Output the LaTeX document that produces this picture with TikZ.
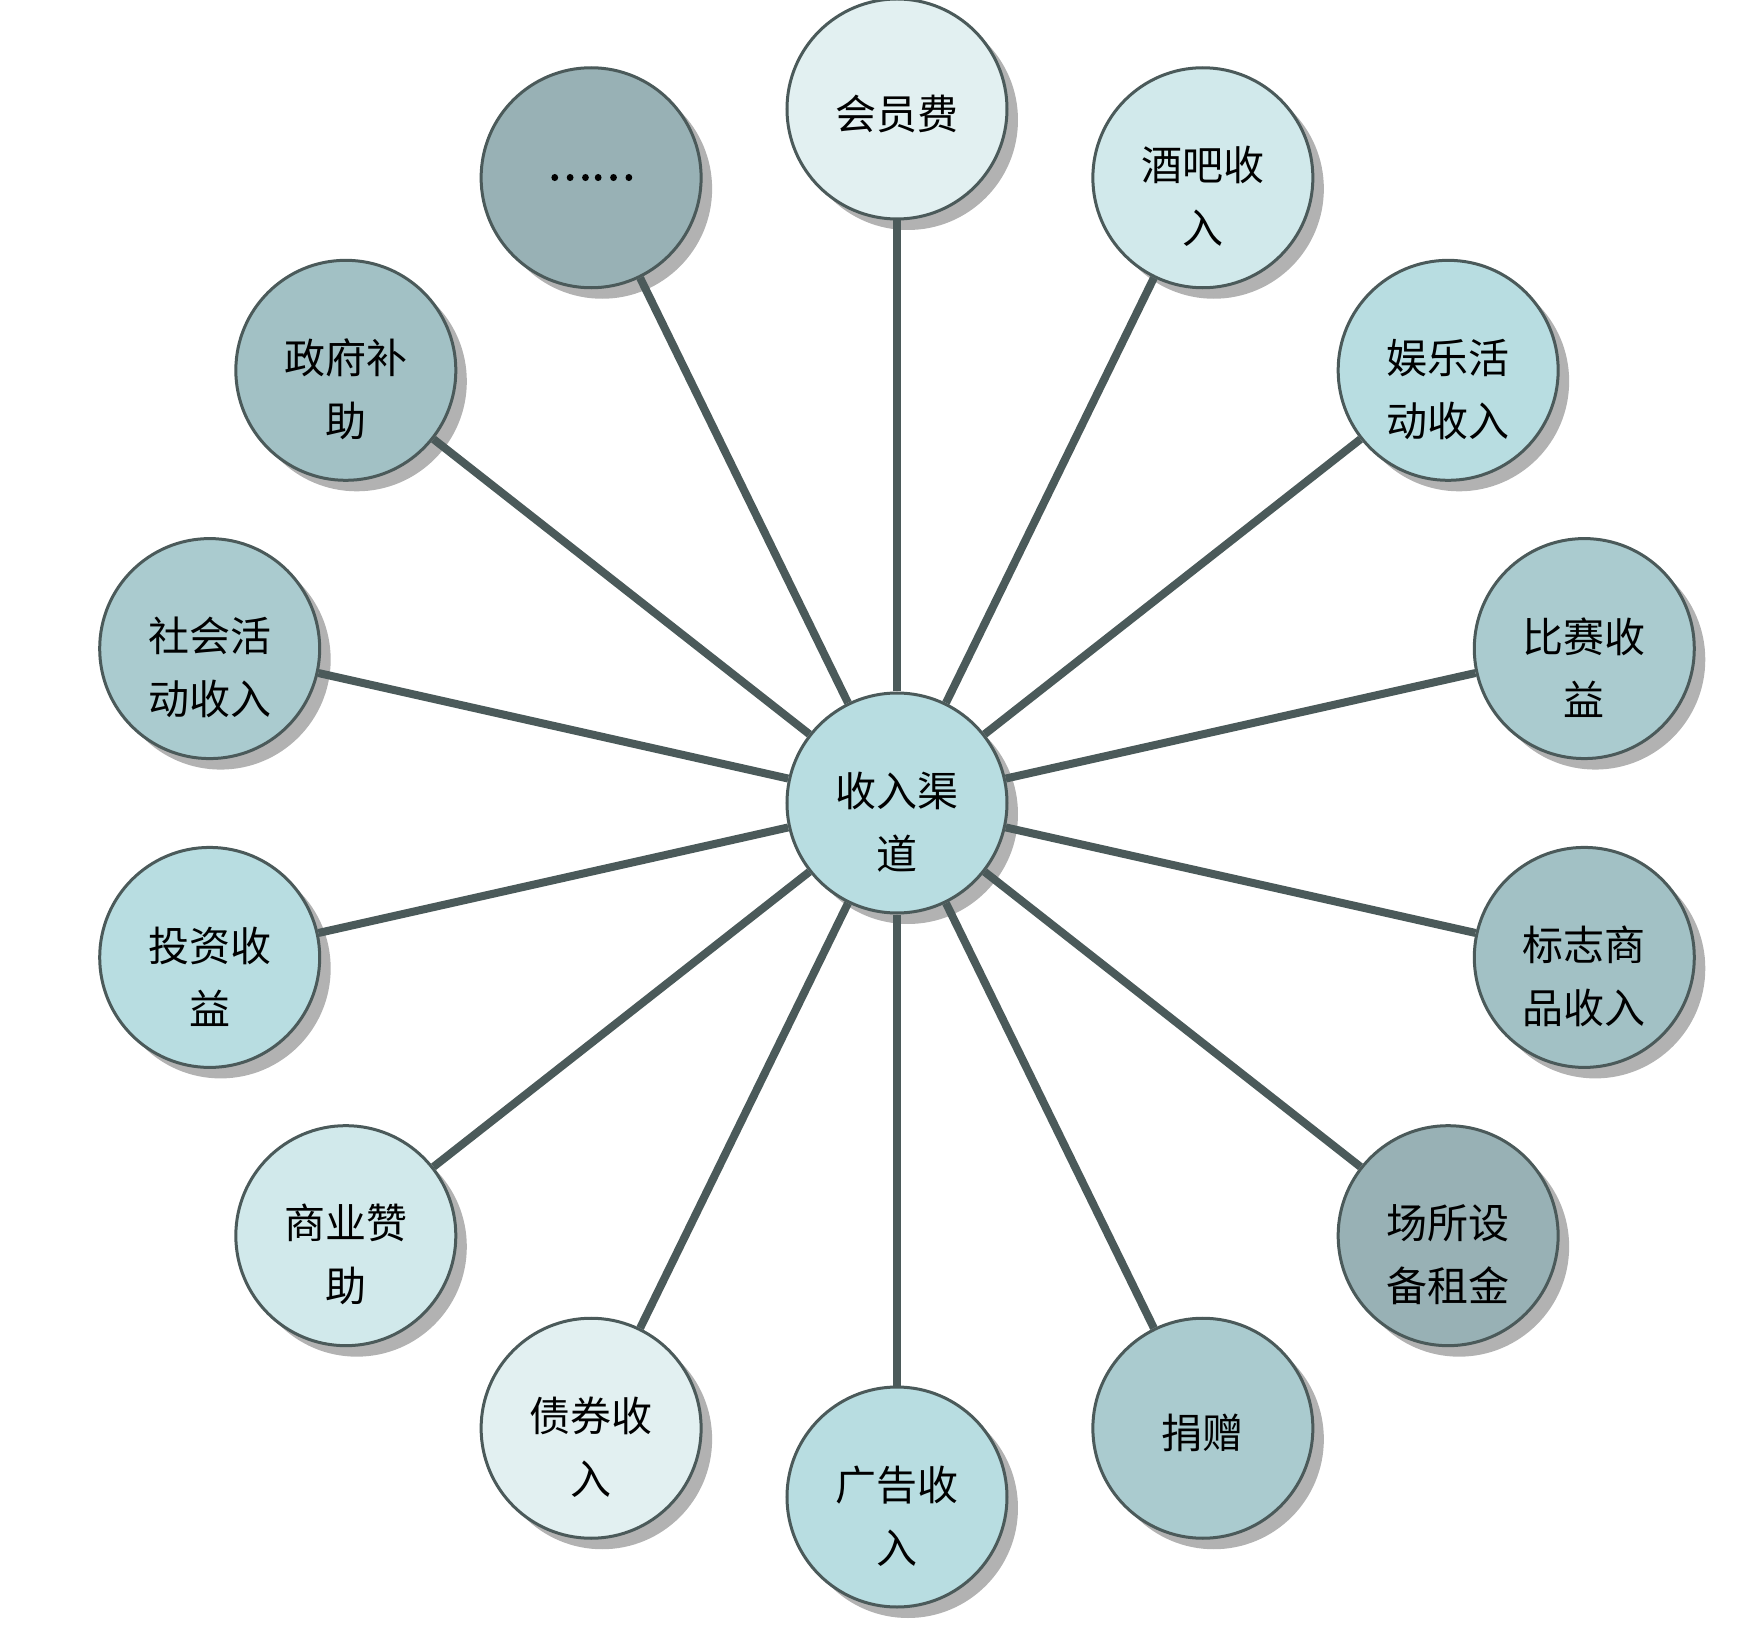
\documentclass[tikz,border=0pt]{standalone}
\usepackage{fontspec}
\setmainfont{Noto Sans CJK SC}
\usepackage{tikz}
\usetikzlibrary{shadows}
\usepackage{xcolor}
\definecolor{edgegray}{HTML}{4B5A5A}
\definecolor{tone1}{HTML}{E2F0F1}
\definecolor{tone2}{HTML}{D1E9EB}
\definecolor{tone3}{HTML}{B8DDE1}
\definecolor{tone4}{HTML}{AACBCF}
\definecolor{tone5}{HTML}{A2C1C5}
\definecolor{tone6}{HTML}{98B1B5}
\definecolor{shadowgray}{HTML}{B2B2B2}

\begin{document}
\begin{tikzpicture}[x=1pt,y=1pt,
  disc/.style={circle,draw=edgegray,line width=3pt,minimum size=220pt,inner sep=0pt,
    drop shadow={shadow xshift=11pt,shadow yshift=-11pt,fill=shadowgray,opacity=1}},
  tag/.style={align=center,inner sep=0pt,font=\fontsize{41}{63}\selectfont},
  spoke/.style={draw=edgegray,line width=8pt}]
\useasboundingbox (-897,-830) rectangle (848,803);
\node[disc,fill=tone3,label={[tag,yshift=-19pt]center:{收入渠\\道}}] (hub) at (0,0) {};
\foreach \k/\txt/\tone/\dy in {0/{会员费}/tone1/-5, 1/{酒吧收\\入}/tone2/-19,
    2/{娱乐活\\动收入}/tone3/-19, 3/{比赛收\\益}/tone4/-19, 4/{标志商\\品收入}/tone5/-19,
    5/{场所设\\备租金}/tone6/-19, 6/{捐赠}/tone4/-5, 7/{广告收\\入}/tone3/-19,
    8/{债券收\\入}/tone1/-19, 9/{商业赞\\助}/tone2/-19, 10/{投资收\\益}/tone3/-19,
    11/{社会活\\动收入}/tone4/-19, 12/{政府补\\助}/tone5/-19,
    13/{\raisebox{11pt}{\addfontfeature{FakeBold=3}……}}/tone6/-5}
  \node[disc,fill=\tone,label={[tag,yshift=\dy pt]center:{\txt}}] (n\k)
    at ({705*cos(90-\k*360/14)},{694*sin(90-\k*360/14)}) {};
% spokes from the hub
\foreach \k in {0,...,13}
  \draw[spoke] (hub) -- (n\k);
\end{tikzpicture}
\end{document}
